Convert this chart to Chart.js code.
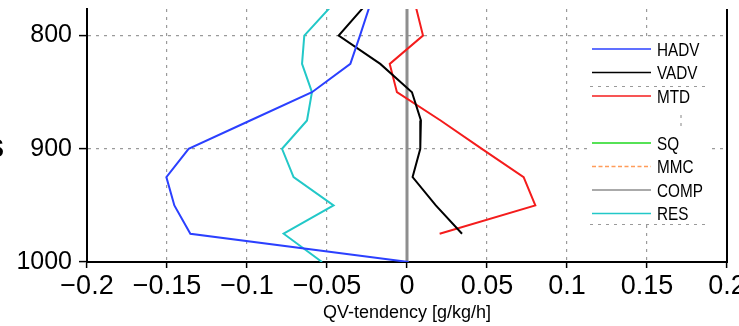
<!DOCTYPE html>
<html>
<head>
<meta charset="utf-8">
<script src="https://cdn.jsdelivr.net/npm/chart.js@4.4.1/dist/chart.umd.min.js"></script>
<style>
  html, body { margin: 0; padding: 0; background: #fff; }
  #wrap { width: 739px; height: 326px; position: relative; }
</style>
</head>
<body>
<div id="wrap"><canvas id="c" width="739" height="326"></canvas></div>
<script>
// ---- data ----
const levels = [775, 800, 825, 850, 875, 900, 925, 950, 975, 1000];
const HADV = [-0.0236, -0.0294, -0.0354, -0.0594, -0.0980, -0.1365, -0.1504, -0.1454, -0.1354, 0.0010];
const VADV = [-0.0272, -0.0427, -0.0167, 0.0031, 0.0087, 0.0083, 0.0035, 0.0180, 0.0344, null];
const MTD  = [0.0056, 0.0100, -0.0108, -0.0063, 0.0210, 0.0468, 0.0729, 0.0802, 0.0204, null];
const SQ   = [0, 0, 0, 0, 0, 0, 0, 0, 0, 0];
const MMC  = [0, 0, 0, 0, 0, 0, 0, 0, 0, 0];
const COMP = [0, 0, 0, 0, 0, 0, 0, 0, 0, 0];
const RES  = [-0.0480, -0.0642, -0.0656, -0.0594, -0.0625, -0.0781, -0.0709, -0.0459, -0.0771, -0.0531];

const seriesNames = ['HADV', 'VADV', 'MTD', 'SQ', 'MMC', 'COMP', 'RES'];
const xTicks = [-0.2, -0.15, -0.1, -0.05, 0, 0.05, 0.1, 0.15, 0.2];
const xTickLabels = ['\u22120.2', '\u22120.15', '\u22120.1', '\u22120.05', '0', '0.05', '0.1', '0.15', '0.2'];
const yTicks = [800, 900, 1000];
const yTickLabels = ['800', '900', '1000'];
const xTitle = 'QV-tendency [g/kg/h]';
const sideText = 'S';

// ---- styles ----
const styles = {
  HADV: { color: '#2b40ff', width: 2, dash: [], order: 0 },
  VADV: { color: '#000000', width: 2, dash: [], order: 0 },
  MTD:  { color: '#f41c1c', width: 2, dash: [], order: 0 },
  SQ:   { color: '#1ed81e', width: 2, dash: [], order: 3 },
  MMC:  { color: '#ff9c5a', width: 2, dash: [4, 3], order: 3 },
  COMP: { color: '#8e8e8e', width: 3, dash: [], order: 2 },
  RES:  { color: '#22c8c8', width: 2, dash: [], order: 1 }
};
const seriesData = { HADV, VADV, MTD, SQ, MMC, COMP, RES };
const legendSlots = [0, 1, 2, 4, 5, 6, 7];

const datasets = seriesNames.map(name => ({
  label: name,
  data: levels.map((p, i) => ({ x: seriesData[name][i], y: p })),
  borderColor: styles[name].color,
  backgroundColor: styles[name].color,
  borderWidth: styles[name].width,
  borderDash: styles[name].dash,
  pointRadius: 0,
  tension: 0,
  fill: false,
  spanGaps: false,
  order: styles[name].order
}));

const gridColor = '#9a9a9a';
const gridDash = [3, 5];

const decorPlugin = {
  id: 'decor',
  afterDraw(chart) {
    const ctx = chart.ctx;
    const a = chart.chartArea;
    ctx.save();
    // right border
    ctx.strokeStyle = '#000';
    ctx.lineWidth = 2;
    ctx.beginPath();
    ctx.moveTo(a.right, a.top);
    ctx.lineTo(a.right, a.bottom + 1);
    ctx.stroke();

    // legend box
    const bx = 589, by = 37, bw = 119, bh = 186;
    ctx.fillStyle = '#fff';
    ctx.fillRect(bx, by, bw, bh);
    ctx.strokeStyle = gridColor;
    ctx.lineWidth = 1.2;
    ctx.setLineDash(gridDash);
    const seg = (x1, y1, x2, y2) => { ctx.beginPath(); ctx.moveTo(x1, y1); ctx.lineTo(x2, y2); ctx.stroke(); };
    seg(590, 86.5, 708, 86.5);
    seg(590, 224.5, 708, 224.5);
    seg(681, 115, 681, 131);

    // legend entries
    ctx.font = '18px "Liberation Sans", Arial, sans-serif';
    ctx.textAlign = 'left';
    ctx.textBaseline = 'middle';
    chart.data.datasets.forEach((ds, i) => {
      const y = 49 + legendSlots[i] * 23.5;
      ctx.strokeStyle = ds.borderColor;
      ctx.lineWidth = 1.6;
      ctx.setLineDash(ds.borderDash && ds.borderDash.length ? [4, 2.5] : []);
      seg(592, y, 651, y);
      ctx.setLineDash([]);
      ctx.fillStyle = '#000';
      ctx.save();
      ctx.translate(657, y + 2);
      ctx.scale(0.85, 1);
      ctx.fillText(ds.label, 0, 0);
      ctx.restore();
    });

    // partially visible text at left edge
    ctx.font = 'bold 25px "Liberation Sans", Arial, sans-serif';
    ctx.textAlign = 'right';
    ctx.textBaseline = 'middle';
    ctx.fillStyle = '#000';
    ctx.fillText(sideText, 4, 150);
    ctx.restore();
  }
};

new Chart(document.getElementById('c'), {
  type: 'line',
  data: { datasets },
  options: {
    responsive: false,
    animation: false,
    devicePixelRatio: 1,
    layout: { padding: { top: 9, right: 12, left: 0, bottom: 0 } },
    plugins: { legend: { display: false }, tooltip: { enabled: false }, title: { display: false } },
    scales: {
      x: {
        type: 'linear',
        min: -0.2,
        max: 0.2,
        afterBuildTicks: s => { s.ticks = xTicks.map(v => ({ value: v })); },
        afterFit: s => { s.height = 64; s.paddingLeft = 0; s.paddingRight = 0; },
        ticks: {
          autoSkip: false,
          maxRotation: 0,
          minRotation: 0,
          padding: 2,
          color: '#000',
          font: { family: '"Liberation Sans", Arial, sans-serif', size: 27 },
          callback: (v, i) => xTickLabels[i]
        },
        grid: {
          color: gridColor,
          lineWidth: 1.2,
          tickColor: '#000',
          tickLength: 6,
          tickWidth: 1.5,
          drawTicks: true
        },
        border: { display: true, color: '#000', width: 2, dash: gridDash },
        title: {
          display: true,
          text: xTitle,
          color: '#000',
          font: { family: '"Liberation Sans", Arial, sans-serif', size: 18 },
          padding: { top: 0, bottom: 2 }
        }
      },
      y: {
        type: 'linear',
        reverse: true,
        min: 776.5,
        max: 1000,
        afterBuildTicks: s => { s.ticks = yTicks.map(v => ({ value: v })); },
        afterFit: s => { s.width = 87; s.paddingTop = 0; s.paddingBottom = 0; },
        ticks: {
          autoSkip: false,
          padding: 7,
          color: '#000',
          font: { family: '"Liberation Sans", Arial, sans-serif', size: 25 },
          callback: (v, i) => yTickLabels[i]
        },
        grid: {
          color: gridColor,
          lineWidth: 1.2,
          tickColor: '#000',
          tickLength: 8,
          tickWidth: 1.5,
          drawTicks: true
        },
        border: { display: true, color: '#000', width: 2, dash: gridDash }
      }
    }
  },
  plugins: [decorPlugin]
});
</script>
</body>
</html>
